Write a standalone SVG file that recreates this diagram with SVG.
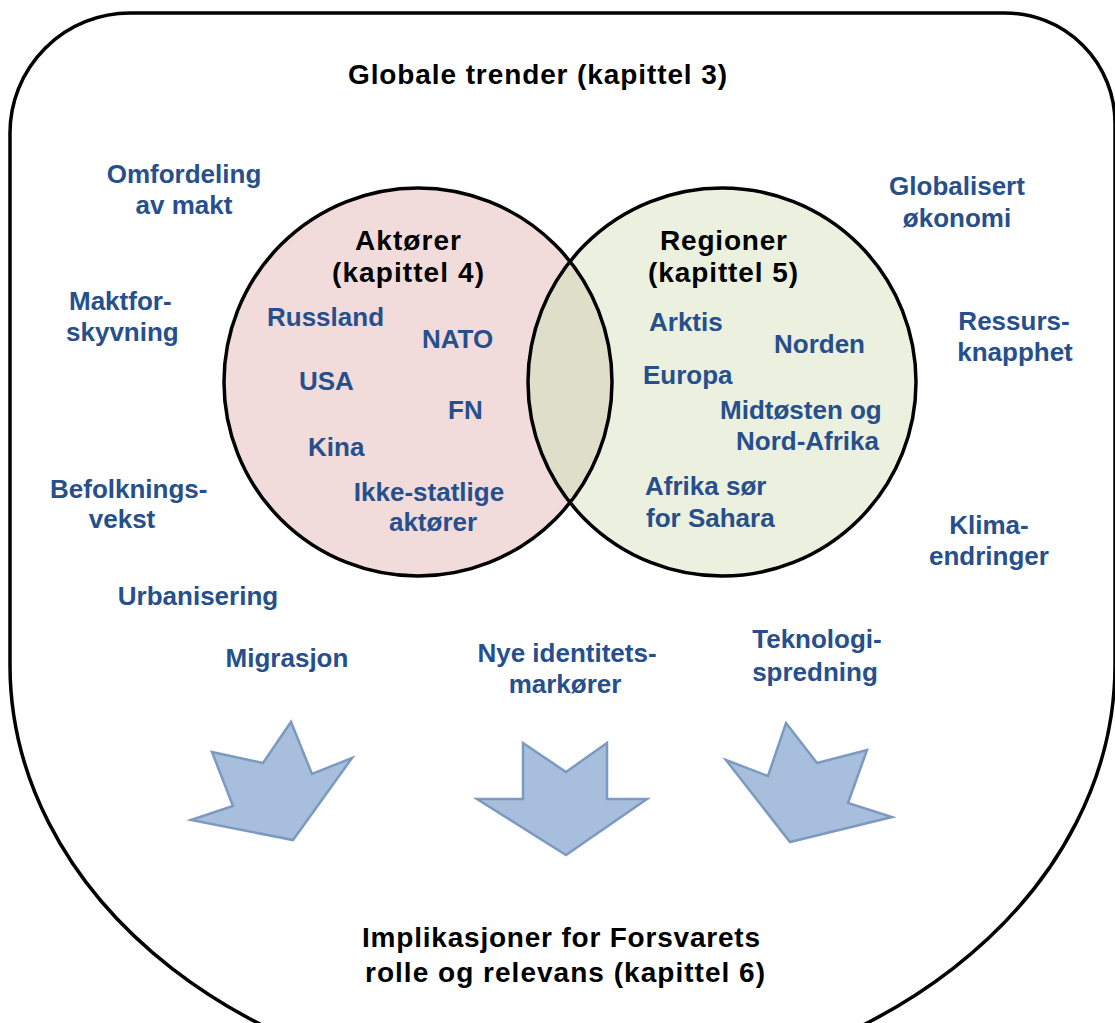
<svg xmlns="http://www.w3.org/2000/svg" width="1115" height="1023" viewBox="0 0 1115 1023">
  <style>
    .h { font-family: "Liberation Sans", Arial, sans-serif; font-weight: bold; font-size: 28px; fill: #000; }
    .b { font-family: "Liberation Sans", Arial, sans-serif; font-weight: bold; font-size: 26px; fill: #264F8C; }
    .c { text-anchor: middle; }
    .arrow { fill: #A7BFDD; stroke: #7C9AC0; stroke-width: 2.5; stroke-linejoin: miter; }
    .circ { fill: none; stroke: #000; stroke-width: 3.5; }
  </style>
  <rect width="1115" height="1023" fill="#fff"/>

  <g id="frame">
    <path d="M 10,133 A 120 120 0 0 1 130 13 L 1005 13 A 110 110 0 0 1 1115 123 L 1115 665 A 552.5 429 0 0 1 10 665 Z" fill="none" stroke="#000" stroke-width="3.5"/>
    <text class="h" x="348" y="84" textLength="379" lengthAdjust="spacing">Globale trender (kapittel 3)</text>
  </g>

  <g id="venn">
    <circle cx="418" cy="382" r="194" fill="#F2DCDB"/>
    <circle cx="722" cy="382" r="194" fill="#EBF1DE"/>
    <path d="M 570 261.5 A 194 194 0 0 0 570 502.5 A 194 194 0 0 0 570 261.5 Z" fill="#DFDEC8"/>
    <circle class="circ" cx="418" cy="382" r="194"/>
    <circle class="circ" cx="722" cy="382" r="194"/>
  </g>

  <g id="aktorer">
    <text class="h" x="355" y="250" textLength="106" lengthAdjust="spacing">Aktører</text>
    <text class="h" x="332" y="282" textLength="152" lengthAdjust="spacing">(kapittel 4)</text>
    <text class="b" x="267" y="326">Russland</text>
    <text class="b" x="422" y="348">NATO</text>
    <text class="b" x="299" y="390">USA</text>
    <text class="b" x="448" y="419">FN</text>
    <text class="b" x="308" y="456">Kina</text>
    <text class="b c" x="429" y="501">Ikke-statlige</text>
    <text class="b c" x="433" y="531">aktører</text>
  </g>

  <g id="regioner">
    <text class="h" x="660" y="250" textLength="127" lengthAdjust="spacing">Regioner</text>
    <text class="h" x="648" y="282" textLength="150" lengthAdjust="spacing">(kapittel 5)</text>
    <text class="b" x="649" y="331">Arktis</text>
    <text class="b" x="774" y="353">Norden</text>
    <text class="b" x="643" y="384">Europa</text>
    <text class="b" x="720" y="419">Midtøsten og</text>
    <text class="b" x="736" y="450">Nord-Afrika</text>
    <text class="b" x="645" y="495">Afrika sør</text>
    <text class="b" x="646" y="527">for Sahara</text>
  </g>

  <g id="trends">
    <text class="b c" x="184" y="183">Omfordeling</text>
    <text class="b c" x="184" y="214">av makt</text>
    <text class="b" x="69" y="310">Maktfor-</text>
    <text class="b" x="66" y="341">skyvning</text>
    <text class="b" x="50" y="498">Befolknings-</text>
    <text class="b c" x="122" y="528">vekst</text>
    <text class="b c" x="198" y="605">Urbanisering</text>
    <text class="b c" x="287" y="667">Migrasjon</text>
    <text class="b c" x="567" y="662">Nye identitets-</text>
    <text class="b c" x="565" y="693">markører</text>
    <text class="b c" x="817" y="648">Teknologi-</text>
    <text class="b c" x="815" y="681">spredning</text>
    <text class="b c" x="957" y="195">Globalisert</text>
    <text class="b c" x="957" y="227">økonomi</text>
    <text class="b c" x="1014" y="330">Ressurs-</text>
    <text class="b c" x="1015" y="361">knapphet</text>
    <text class="b c" x="989" y="534">Klima-</text>
    <text class="b c" x="989" y="565">endringer</text>
  </g>

  <g id="connectors">
    <polygon class="arrow" points="212,752 263,763 291,722 312,774 352,758 293,840 191,820 233,806"/>
    <polygon class="arrow" points="523,743 566,772 607,743 607,799 647,799 566,855 477,799 523,799"/>
    <polygon class="arrow" points="786,723 817,763 867,750 848,803 892,817 790,842 726,760 768,776"/>
  </g>

  <g id="implikasjoner">
    <text class="h" x="362" y="947" textLength="398" lengthAdjust="spacing">Implikasjoner for Forsvarets</text>
    <text class="h" x="365" y="982" textLength="400" lengthAdjust="spacing">rolle og relevans (kapittel 6)</text>
  </g>
</svg>
